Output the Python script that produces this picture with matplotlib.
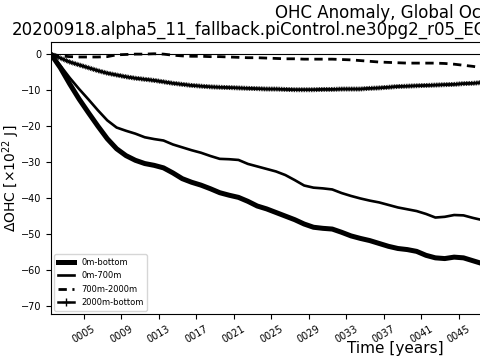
import matplotlib
matplotlib.use("Agg")
import matplotlib.pyplot as plt
import matplotlib.patheffects as pe
from matplotlib.lines import Line2D
import numpy as np

years = [1.5 + i for i in range(47)]
ohc_0m_bottom = [0, -3.8, -8.3, -12.5, -16.3, -20.0, -23.5, -26.3, -28.2, -29.5,
                 -30.4, -30.9, -31.6, -33.0, -34.6, -35.6, -36.4, -37.4, -38.5, -39.2,
                 -39.8, -40.9, -42.2, -43.0, -44.0, -45.0, -46.0, -47.2, -48.1, -48.4,
                 -48.6, -49.5, -50.5, -51.2, -51.8, -52.6, -53.4, -54.0, -54.3, -54.8,
                 -55.9, -56.6, -56.8, -56.4, -56.6, -57.4, -58.2]
ohc_0m_700m = [0, -3.2, -6.6, -9.7, -12.6, -15.6, -18.4, -20.4, -21.3, -22.1,
               -23.1, -23.6, -24.0, -25.1, -25.9, -26.7, -27.4, -28.3, -29.1, -29.2,
               -29.4, -30.5, -31.2, -31.9, -32.6, -33.6, -35.0, -36.5, -37.1, -37.3,
               -37.6, -38.6, -39.4, -40.1, -40.7, -41.2, -41.9, -42.6, -43.1, -43.6,
               -44.4, -45.4, -45.2, -44.7, -44.8, -45.5, -46.1]
ohc_700m_2000m = [0, -0.5, -0.7, -0.8, -0.8, -0.8, -0.7, -0.2, -0.1, 0.0,
                  0.0, 0.1, 0.0, -0.3, -0.5, -0.6, -0.6, -0.7, -0.7, -0.8,
                  -0.9, -1.0, -1.0, -1.1, -1.2, -1.3, -1.3, -1.4, -1.4, -1.4,
                  -1.4, -1.5, -1.6, -1.8, -2.0, -2.2, -2.3, -2.4, -2.5, -2.5,
                  -2.5, -2.5, -2.6, -2.8, -3.1, -3.4, -3.8]
ohc_2000m_bottom = [0, -1.1, -2.2, -3.0, -3.8, -4.6, -5.3, -5.8, -6.3, -6.7,
                    -7.0, -7.3, -7.7, -8.1, -8.4, -8.7, -8.9, -9.1, -9.2, -9.3,
                    -9.4, -9.5, -9.6, -9.7, -9.7, -9.8, -9.9, -9.9, -9.9, -9.8,
                    -9.8, -9.7, -9.7, -9.7, -9.5, -9.4, -9.2, -9.0, -8.9, -8.8,
                    -8.7, -8.6, -8.5, -8.4, -8.2, -8.1, -7.9]
xticks = [5 + 4 * i for i in range(18)]
xticklabels = ["%04d" % t for t in xticks]
legend_labels = ["0m-bottom", "0m-700m", "700m-2000m", "2000m-bottom"]
title_line1 = "OHC Anomaly, Global Ocean"
title_line2 = "20200918.alpha5_11_fallback.piControl.ne30pg2_r05_EC30to60E2r2-1900_ICG"

W, H = 480, 360
fig = plt.figure(figsize=(W / 100, H / 100), dpi=100)
ax = fig.add_axes([51 / W, (H - 314) / H, 688 / W, (314 - 41.7) / H])

ax.axhline(0, color="black", lw=0.8)
ax.plot(years, ohc_0m_bottom, color="black", lw=3.6, solid_capstyle="butt")
ax.plot(years, ohc_0m_700m, color="black", lw=1.9)
ax.plot(years, ohc_700m_2000m, color="black", lw=2.0, ls=(0, (3, 2)))
ax.plot(years, ohc_2000m_bottom, color="black", lw=1.8,
        path_effects=[pe.withTickedStroke(spacing=1.2, angle=90, length=1.2, linewidth=0.6),
                      pe.withTickedStroke(spacing=1.2, angle=-90, length=1.2, linewidth=0.6)])

ax.set_xlim(1.5, 1.5 + 688 / 9.375)
ax.set_ylim(-72.2, 3.45)
ax.set_xticks(xticks)
ax.set_xticklabels(xticklabels, rotation=30, fontsize=7)
ax.tick_params(axis="y", labelsize=7)
ax.set_yticks([0, -10, -20, -30, -40, -50, -60, -70])
ax.set_xlabel("Time [years]", fontsize=11)
ax.set_ylabel(r"$\Delta$OHC [$\times 10^{22}$ J]", fontsize=10)
ax.xaxis.set_label_coords(0.5, -(341 - 314) / (314 - 41.7))
ax.yaxis.set_label_coords(-(51 - 22.5) / 688, 0.5)

handles = [Line2D([], [], color="black", lw=3.6),
           Line2D([], [], color="black", lw=1.9),
           Line2D([], [], color="black", lw=2.0, ls=(0, (3, 2))),
           Line2D([], [], color="black", lw=1.8, marker="+", markersize=6)]
leg = ax.legend(handles, legend_labels, loc="lower left", fontsize=6,
                handlelength=2.0, labelspacing=0.55, borderaxespad=0.4)

fig.text(275 / W, 1 - 18 / H, title_line1, ha="left", va="baseline", fontsize=12)
fig.text(12 / W, 1 - 35 / H, title_line2, ha="left", va="baseline", fontsize=12)

fig.savefig("out.png", dpi=100)
